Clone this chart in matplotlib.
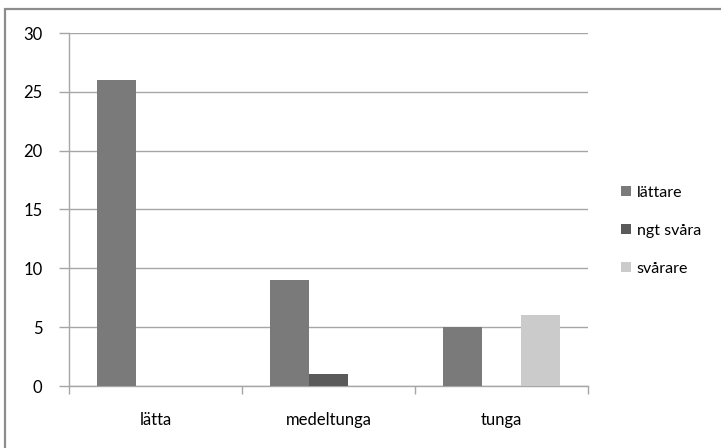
import matplotlib
matplotlib.use("Agg")
import matplotlib.pyplot as plt
import numpy as np
from matplotlib.patches import Rectangle

# --- DATA ---
categories = ["lätta", "medeltunga", "tunga"]
series_names = ["lättare", "ngt svåra", "svårare"]
lattare = [26, 9, 5]
ngt_svara = [0, 1, 0]
svarare = [0, 0, 6]
y_ticks = [0, 5, 10, 15, 20, 25, 30]

# --- STYLE ---
plt.rcParams['font.family'] = ['Lato', 'DejaVu Sans']
colors = ["#7a7a7a", "#5a5a5a", "#cbcbcb"]
grid_col = "#a6a6a6"

fig = plt.figure(figsize=(7.21, 4.48), dpi=100)
ax = fig.add_axes([69 / 721, 1 - 386 / 448, (588 - 69) / 721, (386 - 33) / 448])

# outer chart frame (only top and left are visible in the crop)
fig.patches.append(Rectangle((5 / 721, -0.1), 2, (448 - 9) / 448 + 0.1,
                             transform=fig.transFigure, fill=False,
                             edgecolor="#8c8c8c", linewidth=1.6))

x = np.arange(len(categories))
width = 0.225
series = [lattare, ngt_svara, svarare]
for i, (name, vals) in enumerate(zip(series_names, series)):
    ax.bar(x + (i - 1) * width, vals, width, color=colors[i], label=name, zorder=3)

ax.set_xlim(-0.5, 2.5)
ax.set_ylim(0, 30)
ax.set_yticks(y_ticks)
ax.yaxis.grid(True, color=grid_col, linewidth=1.0, zorder=0)

# category ticks sit between groups
ax.set_xticks(x)
ax.set_xticklabels(categories, fontsize=12)
ax.set_xticks([-0.5, 0.5, 1.5, 2.5], minor=True)
ax.tick_params(axis='x', which='major', length=0, pad=19)
ax.tick_params(axis='x', which='minor', length=6, color=grid_col, width=1.0)
ax.tick_params(axis='y', length=7, color=grid_col, width=1.0, labelsize=12, pad=12)

for s in ['top', 'right']:
    ax.spines[s].set_visible(False)
ax.spines['left'].set_color(grid_col)
ax.spines['bottom'].set_color(grid_col)
ax.spines['left'].set_linewidth(1.0)
ax.spines['bottom'].set_linewidth(1.0)

leg = ax.legend(loc='center left', bbox_to_anchor=(1.035, 0.44), frameon=False,
                fontsize=11.5, handlelength=0.65, handleheight=0.65,
                handletextpad=0.35, labelspacing=1.5)

plt.savefig("out.png", dpi=100)
